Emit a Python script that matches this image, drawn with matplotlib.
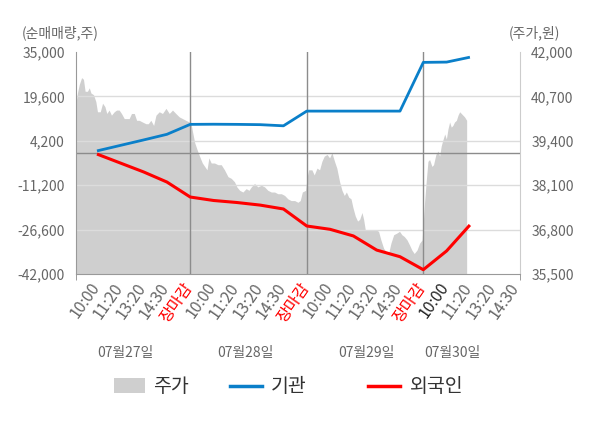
import matplotlib
matplotlib.use("Agg")
import matplotlib.pyplot as plt
import matplotlib.transforms as mtransforms
from matplotlib.patches import Rectangle
from matplotlib.lines import Line2D
from matplotlib.ticker import FuncFormatter, FixedLocator

plt.rcParams['font.family'] = ['Noto Sans CJK KR', 'DejaVu Sans']

# x axis labels (one slot per label)
tick_labels = ['10:00', '11:20', '13:20', '14:30', '장마감',
               '10:00', '11:20', '13:20', '14:30', '장마감',
               '10:00', '11:20', '13:20', '14:30', '장마감',
               '10:00', '11:20', '13:20', '14:30']
day_labels = ['07월27일', '07월28일', '07월29일', '07월30일']
day_label_x = [2.21, 7.36, 12.55, 16.24]

# net buying (shares), one point per time slot
flow_x = [1, 2, 3, 4, 5, 6, 7, 8, 9, 10, 11, 12, 13, 14, 15, 16, 17]
institution = [700, 2600, 4500, 6450, 9900, 9950, 9900, 9800, 9400,
               14500, 14500, 14500, 14500, 14500, 31400, 31500, 33200]
foreign = [-400, -3500, -6600, -10100, -15300, -16500, -17200, -18100, -19450,
           -25350, -26500, -28800, -33700, -36000, -40500, -34000, -25000]

# stock price (won)
day1_x = [0.1, 0.16, 0.24, 0.34, 0.42, 0.49, 0.59, 0.67, 0.74, 0.85, 0.95, 1.02,
          1.14, 1.24, 1.34, 1.42, 1.52, 1.62, 1.74, 1.84, 1.95, 2.05, 2.17, 2.28,
          2.38, 2.48, 2.60, 2.70, 2.81, 2.95, 3.10, 3.20, 3.31, 3.43, 3.53, 3.67,
          3.81, 3.96, 4.10, 4.24, 4.38, 4.53, 4.67, 4.81, 4.96]
day1_price = [40500, 40800, 41050, 41250, 41200, 40850, 40850, 40950, 40800, 40750,
              40550, 40250, 40250, 40500, 40400, 40200, 40300, 40150, 40250, 40300,
              40300, 40200, 40050, 40050, 40050, 40200, 40200, 40000, 40000, 39950,
              39900, 39900, 40000, 39850, 40150, 40250, 40200, 40350, 40200, 40300,
              40200, 40100, 40050, 40000, 39950]
day2_x = [5.01, 5.09, 5.19, 5.29, 5.40, 5.52, 5.62, 5.72, 5.80, 5.90, 6.04, 6.19,
          6.33, 6.47, 6.62, 6.76, 6.90, 7.00, 7.12, 7.26, 7.40, 7.52, 7.62, 7.76,
          7.90, 8.05, 8.19, 8.33, 8.48, 8.62, 8.76, 8.91, 9.05, 9.19, 9.33, 9.48,
          9.62, 9.72, 9.81, 9.95]
day2_price = [40000, 39700, 39350, 39150, 38950, 38750, 38650, 38550, 38900, 38750,
              38750, 38700, 38700, 38550, 38350, 38300, 38200, 38050, 37950, 37900,
              38000, 37950, 38050, 38150, 38050, 38100, 38050, 37950, 37900, 37900,
              37850, 37850, 37800, 37700, 37650, 37650, 37600, 37650, 37900, 37950]
day3_x = [10.02, 10.08, 10.22, 10.32, 10.44, 10.55, 10.65, 10.75, 10.87, 10.98,
          11.08, 11.19, 11.29, 11.41, 11.51, 11.61, 11.70, 11.80, 11.90, 11.98,
          12.08, 12.18, 12.27, 12.37, 12.44, 12.51, 12.65, 12.80, 12.94, 13.08,
          13.18, 13.30, 13.41, 13.51, 13.61, 13.73, 13.87, 13.98, 14.08, 14.18,
          14.30, 14.41, 14.51, 14.61, 14.73, 14.84, 14.95]
day3_price = [38350, 38550, 38550, 38400, 38600, 38550, 38800, 38950, 39000, 38900,
              39050, 38800, 38600, 38200, 37950, 37800, 37900, 37750, 37700, 37450,
              37200, 37050, 37100, 37300, 37100, 36800, 36800, 36800, 36800, 36750,
              36500, 36250, 36150, 36100, 36400, 36650, 36700, 36750, 36650, 36600,
              36500, 36350, 36200, 36100, 36200, 36400, 36500]
day4_x = [15.03, 15.06, 15.13, 15.20, 15.27, 15.37, 15.44, 15.54, 15.63, 15.70,
          15.77, 15.83, 15.92, 15.99, 16.06, 16.13, 16.20, 16.27, 16.34, 16.42,
          16.49, 16.56, 16.63, 16.70, 16.77, 16.86]
day4_price = [37350, 37650, 38250, 38800, 38850, 38650, 38700, 39000, 39100, 38950,
              39250, 39400, 39600, 39450, 39750, 39950, 39800, 39850, 39950, 40000,
              40150, 40250, 40200, 40150, 40100, 40000]

left_ticks = [-42000, -26600, -11200, 4200, 19600, 35000]
right_ticks = [35500, 36800, 38100, 39400, 40700, 42000]
day_breaks = [5, 10, 15]

GRAY_TXT = '#666666'
BLUE = '#0a7fc9'
RED = '#ff0000'
AREA = '#cfcfcf'


def comma(x, pos):
    return f"{x:,.0f}"


fig = plt.figure(figsize=(6, 4.28), dpi=100, facecolor='white')
ax = fig.add_axes([0.1267, 0.3598, 0.74, 0.5187])
ax2 = ax.twinx()

# price area on the twin axis, kept underneath the flow lines
ax.set_zorder(ax2.get_zorder() + 1)
ax.patch.set_visible(False)
ax2.set_facecolor('#f5f5f5')

price_x = day1_x + day2_x + day3_x + day4_x
price = day1_price + day2_price + day3_price + day4_price
ax2.fill_between(price_x, price, right_ticks[0], color=AREA, linewidth=0)
ax2.set_ylim(right_ticks[0], right_ticks[-1])
ax2.set_yticks(right_ticks)
ax2.yaxis.set_major_formatter(FuncFormatter(comma))

# grid, zero line and day separators
for t in left_ticks[1:-1]:
    ax.axhline(t, color='#dcdcdc', lw=1, zorder=1)
ax.axhline(0, color='#8c8c8c', lw=1, zorder=2)
for b in day_breaks:
    ax.axvline(b, color='#8c8c8c', lw=1, zorder=2)

ax.plot(flow_x, institution, color=BLUE, lw=2, zorder=3, solid_capstyle='butt')
ax.plot(flow_x, foreign, color=RED, lw=2.2, zorder=3, solid_capstyle='butt')

ax.set_xlim(0.1, 19.15)
ax.set_ylim(left_ticks[0], left_ticks[-1])
ax.set_yticks(left_ticks)
ax.yaxis.set_major_formatter(FuncFormatter(comma))

ax.set_xticks(range(1, len(tick_labels) + 1))
ax.set_xticklabels(tick_labels, rotation=55, ha='right', fontsize=11.5)
ax.xaxis.set_minor_locator(FixedLocator([0.1] + day_breaks + [19.15]))
ax.tick_params(axis='x', which='major', length=0, pad=2)
ax.tick_params(axis='x', which='minor', length=4, color='#8c8c8c')
shift = mtransforms.ScaledTranslation(6 / 100, -3 / 100, fig.dpi_scale_trans)
for lbl in ax.get_xticklabels():
    lbl.set_transform(lbl.get_transform() + shift)
    if lbl.get_text() == '장마감':
        lbl.set_color(RED)
    else:
        lbl.set_color(GRAY_TXT)
ax.get_xticklabels()[15].set_color('#222222')

ax.tick_params(axis='y', length=0, labelsize=10, labelcolor=GRAY_TXT, pad=8)
ax2.tick_params(axis='y', length=0, labelsize=10, labelcolor=GRAY_TXT, pad=8)

for a in (ax, ax2):
    a.spines['top'].set_visible(False)
ax.spines['left'].set_color('#999999')
ax.spines['bottom'].set_color('#999999')
ax.spines['right'].set_visible(False)
ax2.spines['left'].set_visible(False)
ax2.spines['bottom'].set_visible(False)
ax2.spines['right'].set_color('#cccccc')

trans = mtransforms.blended_transform_factory(ax.transData, ax.transAxes)
for x, lbl in zip(day_label_x, day_labels):
    ax.text(x, -0.356, lbl, transform=trans, ha='center', va='center',
            fontsize=10, color=GRAY_TXT)

fig.text(22 / 600, 1 - 33 / 428, '(순매매량,주)', fontsize=10, color=GRAY_TXT,
         ha='left', va='center')
fig.text(509 / 600, 1 - 33 / 428, '(주가,원)', fontsize=10, color=GRAY_TXT,
         ha='left', va='center')

# legend drawn by hand to match the spacing
ly = 1 - 386 / 428
fig.add_artist(Rectangle((114 / 600, 1 - 393 / 428), 31 / 600, 15 / 428,
                         transform=fig.transFigure, color=AREA, lw=0))
fig.text(153 / 600, ly, '주가', fontsize=14, color='#333333', va='center')
fig.add_artist(Line2D([230 / 600, 262 / 600], [ly, ly], transform=fig.transFigure,
                      color=BLUE, lw=2.5))
fig.text(271 / 600, ly, '기관', fontsize=14, color='#333333', va='center')
fig.add_artist(Line2D([368 / 600, 400 / 600], [ly, ly], transform=fig.transFigure,
                      color=RED, lw=2.5))
fig.text(410 / 600, ly, '외국인', fontsize=14, color='#333333', va='center')

fig.savefig('out.png', dpi=100, facecolor=fig.get_facecolor())
